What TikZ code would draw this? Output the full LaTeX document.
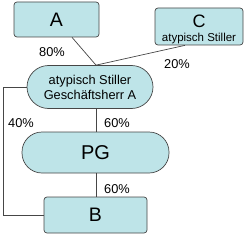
\documentclass[tikz,border=0pt]{standalone}
\usepackage{fontspec}
\setmainfont{Liberation Sans}
\usetikzlibrary{positioning,calc}
\definecolor{paleTeal}{RGB}{190,228,232}
\definecolor{edgeGray}{RGB}{70,70,70}

\begin{document}
\begin{tikzpicture}[x=1pt, y=-1pt,
  box/.style={rectangle, rounded corners=3pt, draw=edgeGray,
              fill=paleTeal, line width=0.7pt, inner sep=0pt},
  pill/.style={box, rounded corners=#1},
  pct/.style={font=\fontsize{12.8}{14}\selectfont, inner sep=0pt},
  link/.style={line width=0.7pt, edgeGray}
]
  \useasboundingbox (0,0) rectangle (245,235);
  \node[box, minimum width=85, minimum height=35,
        font=\fontsize{19.5}{20}\selectfont] (A) at (56.5,19.5) {A};
  \node[box, minimum width=88, minimum height=37] (C) at (199,26.5) {};
  \node[font=\fontsize{18}{18}\selectfont, inner sep=0pt]
    (Cname) at (199,21.5) {C};
  \node[font=\fontsize{11.5}{12}\selectfont, inner sep=0pt]
    (Ctype) at (199,38.7) {atypisch Stiller};
  \node[pill=21.5pt, minimum width=126, minimum height=43, align=center,
        font=\fontsize{12.8}{15}\selectfont] (GA) at (90,87)
    {atypisch Stiller\\Geschäftsherr A};
  \node[pill=20pt, minimum width=147, minimum height=41,
        font=\fontsize{20}{20}\selectfont] (PG) at (95.5,152.5) {PG};
  \node[box, minimum width=103, minimum height=36,
        font=\fontsize{19.5}{20}\selectfont] (B) at (95.5,215) {B};
  % Beteiligungen
  \draw[link] ([xshift=15.5pt]A.south) -- ([xshift=6pt]GA.north);
  \draw[link] ([xshift=-14pt]C.south) -- ([xshift=6pt]GA.north);
  \draw[link] ([xshift=6pt]GA.south) -- ([xshift=0.5pt]PG.north);
  \draw[link] ([xshift=0.5pt]PG.south) -- ([xshift=0.5pt]B.north);
  \draw[link] (GA.west) -- ++(-23,0) |- (B.west);
  \node[pct] at (52,52) {80\%};
  \node[pct] at (177,64) {20\%};
  \node[pct] at (21,123) {40\%};
  \node[pct] at (117,123) {60\%};
  \node[pct] at (117,189) {60\%};
\end{tikzpicture}
\end{document}
